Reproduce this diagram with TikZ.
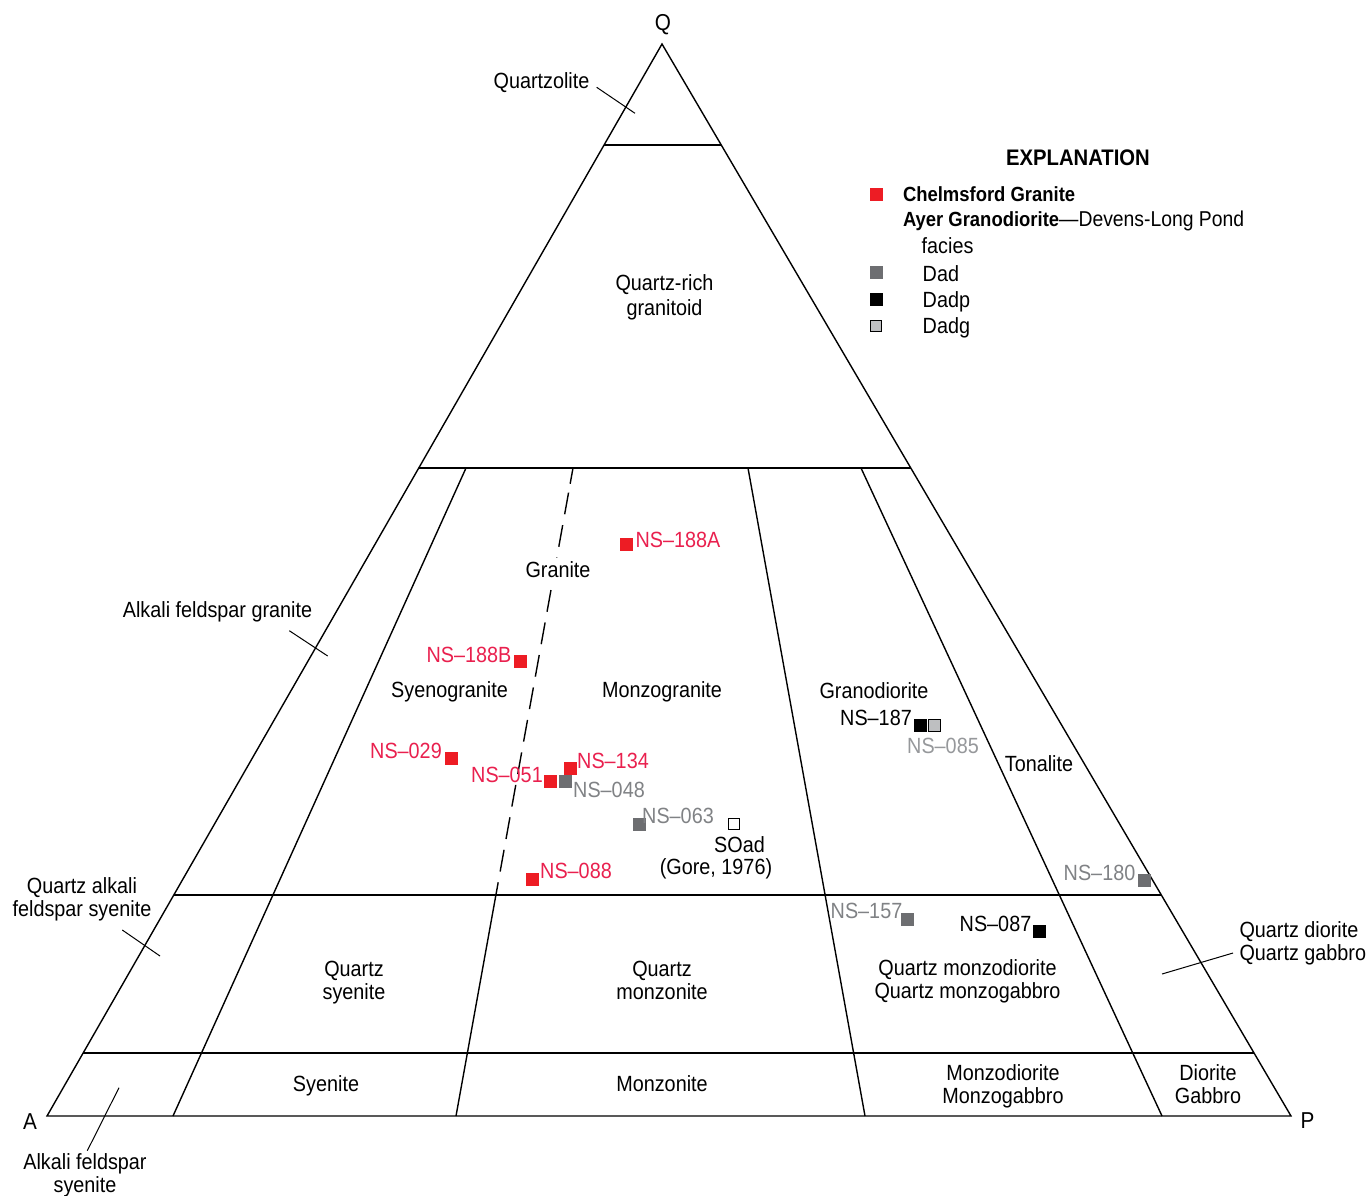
\documentclass[tikz,border=0pt]{standalone}
\usepackage{fontspec}
\setmainfont{Liberation Sans}[FakeStretch=0.9]
\usetikzlibrary{calc}
\definecolor{ptred}{RGB}{237,28,36}
\definecolor{txtred}{RGB}{233,32,78}
\definecolor{ptgray}{RGB}{109,110,113}
\definecolor{txtgray}{RGB}{128,130,133}
\definecolor{txtlgray}{RGB}{150,152,155}
\definecolor{ptlgray}{RGB}{190,191,193}
\begin{document}
\begin{tikzpicture}[x=1pt,y=-1pt,
  every node/.style={inner sep=0pt, outer sep=0pt},
  lbl/.style={font=\fontsize{22}{23}\selectfont, anchor=base, align=center},
  lleft/.style={font=\fontsize{22}{23}\selectfont, anchor=base west, align=left},
  corner/.style={font=\fontsize{23}{24}\selectfont, anchor=base},
  bnd/.style={line width=1.4pt, line cap=butt},
  leader/.style={line width=1pt},
  ptbox/.style={minimum size=13pt, draw=none},
  redpt/.style={ptbox, fill=ptred},
  graypt/.style={ptbox, fill=ptgray},
  blackpt/.style={ptbox, fill=black},
  lgraypt/.style={minimum size=11.5pt, draw=black, line width=1.3pt, fill=ptlgray},
  openpt/.style={minimum size=11pt, draw=black, line width=1.2pt, fill=white},
  redtxt/.style={lbl, text=txtred},
  graytxt/.style={lbl, text=txtgray},
  lgraytxt/.style={lbl, text=txtlgray},
]
\useasboundingbox (0,0) rectangle (1367,1195);

% --- corners and boundary points
\coordinate (Q) at (662,44);
\coordinate (A) at (47,1116);
\coordinate (P) at (1291,1116);
\coordinate (q90l) at (604.1,145);  \coordinate (q90r) at (721.2,145);
\coordinate (q60l) at (418.8,468);  \coordinate (q60r) at (910.8,468);
\coordinate (q20l) at (173.8,895);  \coordinate (q20r) at (1161.3,895);
\coordinate (q05l) at (83.1,1053);  \coordinate (q05r) at (1254,1053);
\coordinate (l10t) at (466,468);    \coordinate (l10b) at (173,1116);
\coordinate (l35t) at (573,468);    \coordinate (l35m) at (495.9,895);
\coordinate (l35b) at (456,1116);
\coordinate (l65t) at (748,468);    \coordinate (l65b) at (865,1116);
\coordinate (l90t) at (861,468);    \coordinate (l90b) at (1162,1116);

\draw[bnd, line join=miter] (A) -- (Q) -- (P) -- cycle;
\draw[bnd] (q90l) -- (q90r);
\draw[bnd] (q60l) -- (q60r);
\draw[bnd] (q20l) -- (q20r);
\draw[bnd] (q05l) -- (q05r);
\draw[bnd] (l10t) -- (l10b);
\draw[bnd, dash pattern=on 16pt off 9pt on 22pt off 11pt on 22pt off 11pt on 22pt off 11pt on 22pt off 11pt on 22pt off 11pt on 22pt off 11pt on 22pt off 11pt on 22pt off 11pt on 22pt off 11pt on 22pt off 11pt on 22pt off 11pt on 22pt off 11pt on 22pt off 11pt] (l35t) -- (l35m);
\draw[bnd] (l35m) -- (l35b);
\draw[bnd] (l65t) -- (l65b);
\draw[bnd] (l90t) -- (l90b);

% --- leader lines
\coordinate (ldq1) at (596.7,87.3);  \coordinate (ldq2) at (635,113.3);
\coordinate (ldg1) at (289.3,630.7); \coordinate (ldg2) at (327.7,656);
\coordinate (lds1) at (122.3,930);   \coordinate (lds2) at (160,956);
\coordinate (ldd1) at (1233,953);    \coordinate (ldd2) at (1162,974);
\coordinate (lda1) at (87.3,1150.7); \coordinate (lda2) at (119,1087.7);
\draw[leader] (ldq1) -- (ldq2);
\draw[leader] (ldg1) -- (ldg2);
\draw[leader] (lds1) -- (lds2);
\draw[leader] (ldd1) -- (ldd2);
\draw[leader] (lda1) -- (lda2);

% --- corner labels
\node[corner] (labQ) at (663,30) {Q};
\node[corner] (labA) at (30,1129) {A};
\node[corner] (labP) at (1307.5,1128) {P};

% --- field labels (base anchor = baseline of last line)
\node[lbl] (fQz) at (541.5,88) {Quartzolite};
\node[lbl, font=\fontsize{22}{25}\selectfont] (fQrg) at (664.5,315) {Quartz-rich\\granitoid};
\node[lbl] (fAfg) at (217.5,617) {Alkali feldspar granite};
\node[lbl, fill=white, inner sep=3pt] (fGr) at (558,577) {Granite};
\node[lbl] (fSyg) at (449.5,697) {Syenogranite};
\node[lbl] (fMzg) at (662,697) {Monzogranite};
\node[lbl] (fGrd) at (874,698) {Granodiorite};
\node[lbl] (fTon) at (1039,771) {Tonalite};
\node[lbl] (fQafs) at (82,916) {Quartz alkali\\feldspar syenite};
\node[lbl] (fQs) at (354,999) {Quartz\\syenite};
\node[lbl] (fQm) at (662,999) {Quartz\\monzonite};
\node[lbl] (fQmd) at (967.5,998) {Quartz monzodiorite\\Quartz monzogabbro};
\node[lleft] (fQd) at (1239.5,960) {Quartz diorite\\Quartz gabbro};
\node[lbl] (fSy) at (326,1091) {Syenite};
\node[lbl] (fMz) at (662,1091) {Monzonite};
\node[lbl] (fMd) at (1003,1103) {Monzodiorite\\Monzogabbro};
\node[lbl] (fDi) at (1208,1103) {Diorite\\Gabbro};
\node[lbl] (fAfs) at (85,1192) {Alkali feldspar\\syenite};

% --- sample points
\node[redpt] (s188a) at (626.5,544) {};
\node[redpt] (s188b) at (520.5,661.5) {};
\node[redpt] (s029) at (451,758.5) {};
\node[redpt] (s051) at (550.5,781.5) {};
\node[graypt] (s048) at (565.5,781.5) {};
\node[redpt] (s134) at (570,768.5) {};
\node[graypt] (s063) at (639.5,824.5) {};
\node[openpt] (ssoad) at (734,824) {};
\node[redpt] (s088) at (532.5,879.5) {};
\node[blackpt] (s187) at (920,725) {};
\node[lgraypt] (s085) at (934.5,725.5) {};
\node[graypt] (s180) at (1144,880) {};
\node[graypt] (s157) at (907.5,919.5) {};
\node[blackpt] (s087) at (1039,931.5) {};

% --- sample labels
\node[redtxt] (t188a) at (678,547) {NS–188A};
\node[redtxt] (t188b) at (469,662) {NS–188B};
\node[redtxt] (t029) at (406,758) {NS–029};
\node[redtxt] (t051) at (507,782) {NS–051};
\node[redtxt] (t134) at (613,768) {NS–134};
\node[graytxt] (t048) at (609,797) {NS–048};
\node[graytxt] (t063) at (678,823) {NS–063};
\node[lbl] (tsoad) at (739.5,852) {SOad};
\node[lbl] (tgore) at (716,874) {(Gore, 1976)};
\node[redtxt] (t088) at (576,878) {NS–088};
\node[lbl] (t187) at (876,725) {NS–187};
\node[lgraytxt] (t085) at (943,753) {NS–085};
\node[graytxt] (t180) at (1099.5,880) {NS–180};
\node[graytxt] (t157) at (866.5,918) {NS–157};
\node[lbl] (t087) at (995.5,931) {NS–087};

% --- explanation
\node[anchor=base, font=\fontsize{22.5}{24}\selectfont\bfseries] (expl) at (1078,165) {EXPLANATION};
\node[redpt] (kred) at (876,194.5) {};
\node[anchor=base west, font=\fontsize{20.5}{22}\selectfont\bfseries] (kredt) at (903,201) {Chelmsford Granite};
\node[anchor=base west, font=\fontsize{21.5}{23}\selectfont] (kayer) at (903,226) {{\fontsize{20.5}{22}\selectfont\bfseries Ayer Granodiorite}—Devens-Long Pond};
\node[lleft] (kfac) at (921.7,253) {facies};
\node[graypt] (kdad) at (876,272) {};
\node[lleft] (kdadt) at (922.7,281) {Dad};
\node[blackpt] (kdadp) at (876,299) {};
\node[lleft] (kdadpt) at (922.7,307) {Dadp};
\node[lgraypt] (kdadg) at (876,326) {};
\node[lleft] (kdadgt) at (922.7,333) {Dadg};
\end{tikzpicture}
\end{document}
